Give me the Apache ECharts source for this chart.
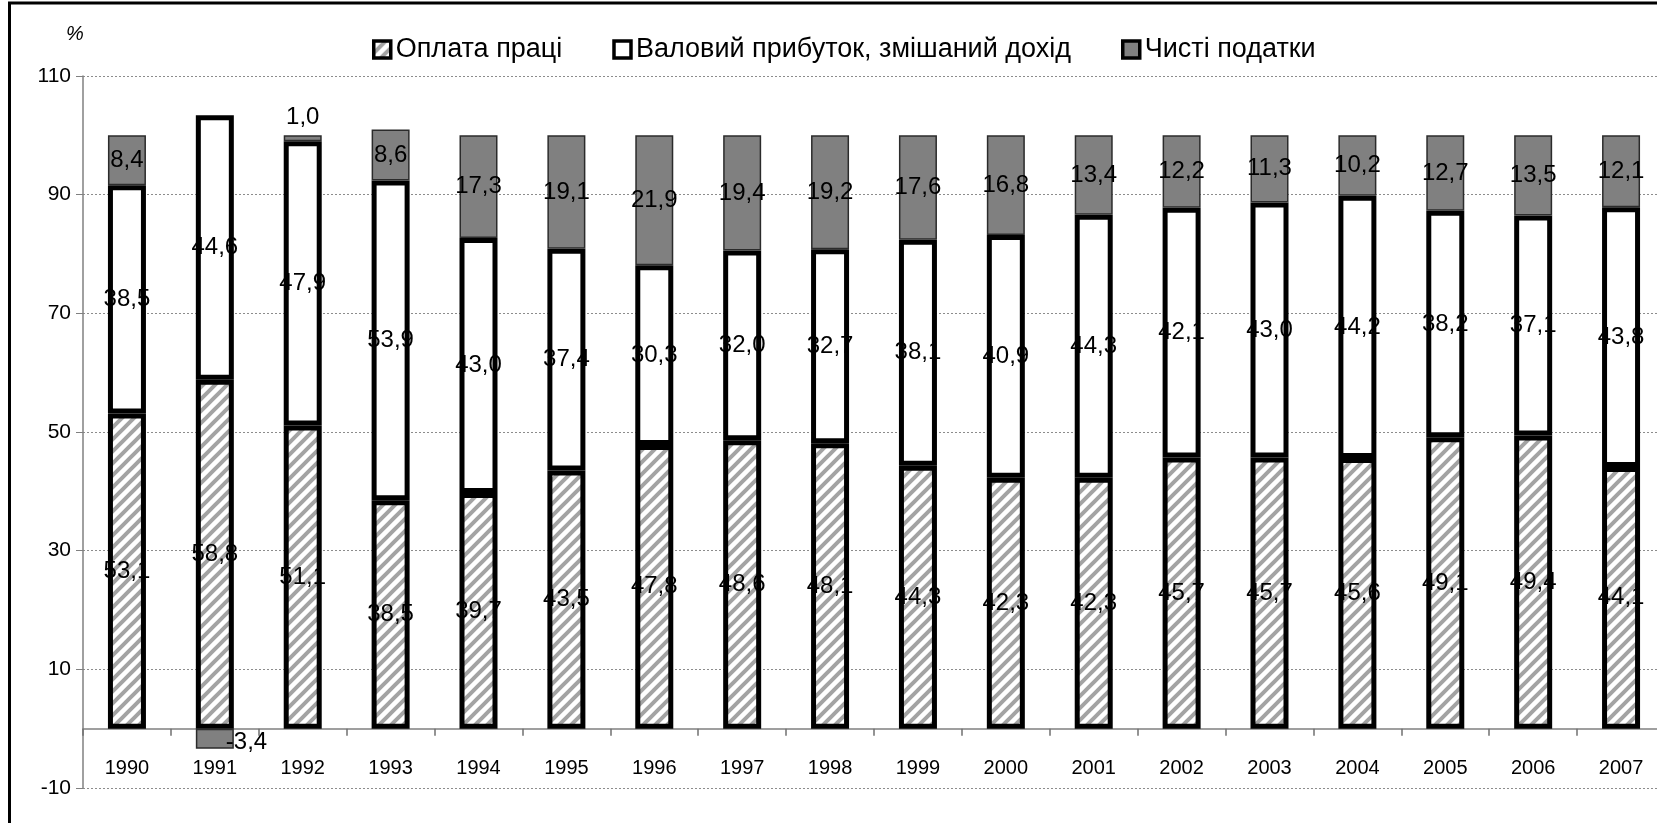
<!DOCTYPE html>
<html>
<head>
<meta charset="utf-8">
<title>Структура ВВП за доходами</title>
<script src="https://cdn.jsdelivr.net/npm/echarts@6.0.0/dist/echarts.min.js"></script>
<style>
  html, body { margin: 0; padding: 0; background: #fff; }
  #chart { width: 1657px; height: 823px; }
</style>
</head>
<body>
<div id="chart"></div>
<script>
// роки
const years = ['1990', '1991', '1992', '1993', '1994', '1995', '1996', '1997', '1998',
  '1999', '2000', '2001', '2002', '2003', '2004', '2005', '2006', '2007']
// Оплата праці
const wages = [53.1, 58.8, 51.1, 38.5, 39.7, 43.5, 47.8, 48.6, 48.1,
  44.3, 42.3, 42.3, 45.7, 45.7, 45.6, 49.1, 49.4, 44.1]
// Валовий прибуток, змішаний дохід
const profit = [38.5, 44.6, 47.9, 53.9, 43.0, 37.4, 30.3, 32.0, 32.7,
  38.1, 40.9, 44.3, 42.1, 43.0, 44.2, 38.2, 37.1, 43.8]
// Чисті податки
const taxes = [8.4, -3.4, 1.0, 8.6, 17.3, 19.1, 21.9, 19.4, 19.2,
  17.6, 16.8, 13.4, 12.2, 11.3, 10.2, 12.7, 13.5, 12.1]
const seriesNames = ['Оплата праці', 'Валовий прибуток, змішаний дохід', 'Чисті податки']
const yMin = -10
const yMax = 110
const yStep = 20

const font = '"Liberation Sans", Arial, sans-serif'

// штрихування для оплати праці
function hatch() {
  const s = 12
  const c = document.createElement('canvas')
  c.width = s
  c.height = s
  const ctx = c.getContext('2d')
  ctx.fillStyle = '#fff'
  ctx.fillRect(0, 0, s, s)
  ctx.strokeStyle = '#a3a3a3'
  ctx.lineWidth = 4
  ctx.beginPath()
  ctx.moveTo(-s / 2, s / 2); ctx.lineTo(s / 2, -s / 2)
  ctx.moveTo(0, s); ctx.lineTo(s, 0)
  ctx.moveTo(s / 2, s * 1.5); ctx.lineTo(s * 1.5, s / 2)
  ctx.stroke()
  return c
}

const fmt = p => p.value.toFixed(1).replace('.', ',')

const labelBase = {
  show: true,
  position: 'inside',
  color: '#000',
  fontSize: 24,
  fontFamily: font,
  formatter: fmt
}

const taxData = taxes.map((v, i) => {
  if (years[i] === '1992') return { value: v, label: { position: 'top', distance: 6 } }
  if (years[i] === '1991') return { value: v, label: { position: 'right', distance: 0, offset: [-8, 4] } }
  return v
})

const chart = echarts.init(document.getElementById('chart'))

const option = {
  animation: false,
  textStyle: { fontFamily: font },
  legend: {
    data: seriesNames,
    icon: 'rect',
    left: 367,
    top: 31,
    itemWidth: 17,
    itemHeight: 17,
    itemGap: 50,
    itemStyle: { borderColor: '#000', borderWidth: 3.5 },
    textStyle: { fontSize: 27, color: '#000', fontFamily: font }
  },
  graphic: [
    {
      type: 'rect',
      z: -10,
      shape: { x: 9.5, y: 3, width: 1800, height: 1000 },
      style: { fill: 'none', stroke: '#000', lineWidth: 3 }
    },
    {
      type: 'text',
      left: 66,
      top: 24,
      style: { text: '%', fontSize: 20, fontStyle: 'italic', fontFamily: font, fill: '#000' }
    }
  ],
  grid: {
    left: 83,
    top: 76,
    width: 1582,
    height: 712,
    containLabel: false,
    outerBoundsMode: 'none'
  },
  xAxis: {
    type: 'category',
    data: years,
    axisLine: { onZero: true, lineStyle: { color: '#808080', width: 1.5 } },
    axisTick: { show: true, length: 7, lineStyle: { color: '#707070', width: 1.5 } },
    axisLabel: { color: '#000', fontSize: 20, margin: -30 },
    splitLine: { show: false }
  },
  yAxis: {
    type: 'value',
    min: yMin,
    max: yMax,
    interval: yStep,
    axisLine: { show: true, lineStyle: { color: '#808080', width: 1.5 } },
    axisTick: { show: true, length: 7, lineStyle: { color: '#808080' } },
    axisLabel: { color: '#000', fontSize: 21, margin: 12 },
    splitLine: { show: true, lineStyle: { color: '#8c8c8c', type: [2, 2], width: 1 } }
  },
  series: [
    {
      name: seriesNames[0],
      type: 'bar',
      stack: 'total',
      barWidth: 38,
      data: wages,
      itemStyle: { color: { image: hatch(), repeat: 'repeat' }, borderColor: '#000', borderWidth: 5 },
      label: labelBase
    },
    {
      name: seriesNames[1],
      type: 'bar',
      stack: 'total',
      data: profit,
      itemStyle: { color: '#fff', borderColor: '#000', borderWidth: 5 },
      label: labelBase
    },
    {
      name: seriesNames[2],
      type: 'bar',
      stack: 'total',
      data: taxData,
      itemStyle: { color: '#808080', borderColor: '#2b2b2b', borderWidth: 1.5 },
      label: labelBase
    }
  ]
}

chart.setOption(option)
</script>
</body>
</html>
